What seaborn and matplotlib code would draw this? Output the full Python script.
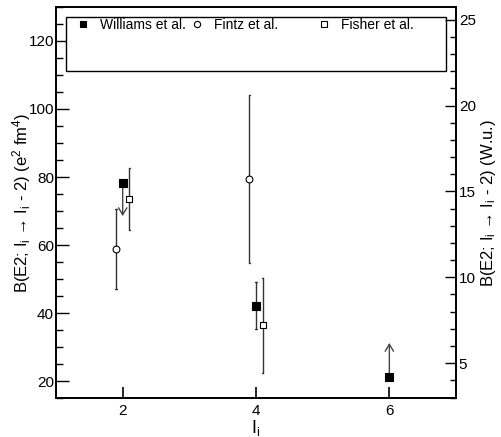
import numpy as np
import pandas as pd
import matplotlib
matplotlib.use("Agg")
import matplotlib.pyplot as plt
import seaborn as sns
from matplotlib.patches import Rectangle
from matplotlib.legend import Legend
from matplotlib.ticker import MultipleLocator

# data
williams_I = [2.0, 4.0, 6.0]
williams_B = [78.3, 42.1, 21.3]
williams_lo = [np.nan, 35.2, np.nan]
williams_hi = [np.nan, 49.2, np.nan]
williams_arrow_to = [68.5, np.nan, 31.2]   # limits drawn as arrows

fintz_I = [1.9, 3.9]
fintz_B = [58.8, 79.4]
fintz_lo = [47.0, 54.7]
fintz_hi = [70.6, 104.1]

fisher_I = [2.1, 4.1]
fisher_B = [73.4, 36.5]
fisher_lo = [64.4, 22.3]
fisher_hi = [82.7, 50.3]

wu_factor = 5.05  # e2fm4 per W.u.

sns.set_theme(style="ticks")
plt.rcParams['font.family'] = ['Liberation Sans', 'DejaVu Sans']
plt.rcParams['mathtext.fontset'] = 'custom'
plt.rcParams['mathtext.rm'] = 'Liberation Sans'
plt.rcParams['mathtext.it'] = 'Liberation Sans:italic'
for k in ['text.color', 'axes.labelcolor', 'xtick.color', 'ytick.color', 'axes.edgecolor']:
    plt.rcParams[k] = 'black'

fig = plt.figure(figsize=(5.02, 4.37), dpi=100)
ax = fig.add_axes([0.1116, 0.0892, 0.7968, 0.8948])

# error bars
for I, lo, hi in zip(williams_I + fintz_I + fisher_I,
                     williams_lo + fintz_lo + fisher_lo,
                     williams_hi + fintz_hi + fisher_hi):
    if np.isnan(lo):
        continue
    ax.plot([I, I], [lo, hi], color='#333333', lw=1.0, zorder=1)
    ax.plot([I - 0.012, I + 0.012], [lo, lo], color='#333333', lw=1.0, zorder=1)
    ax.plot([I - 0.012, I + 0.012], [hi, hi], color='#333333', lw=1.0, zorder=1)

for I, B, tip in zip(williams_I, williams_B, williams_arrow_to):
    if np.isnan(tip):
        continue
    ax.annotate("", xy=(I, tip), xytext=(I, B),
                arrowprops=dict(arrowstyle="->,head_width=0.3,head_length=0.5", color='#444444',
                                lw=1.0, mutation_scale=10, shrinkA=0, shrinkB=0),
                zorder=1)

df_w = pd.DataFrame({"I": williams_I, "B": williams_B})
df_f = pd.DataFrame({"I": fintz_I, "B": fintz_B})
df_s = pd.DataFrame({"I": fisher_I, "B": fisher_B})

sns.scatterplot(data=df_w, x="I", y="B", marker="s", s=30, color="black",
                edgecolor="black", linewidth=0.8, ax=ax, zorder=3, legend=False)
sns.scatterplot(data=df_f, x="I", y="B", marker="o", s=24, color="white",
                edgecolor="black", linewidth=0.8, ax=ax, zorder=3, legend=False)
sns.scatterplot(data=df_s, x="I", y="B", marker="s", s=23, color="white",
                edgecolor="black", linewidth=0.8, ax=ax, zorder=3, legend=False)

ax.set_xlim(1, 7)
ax.set_ylim(15, 130)
ax.set_xticks([2, 4, 6])
ax.yaxis.set_major_locator(MultipleLocator(20))
ax.yaxis.set_minor_locator(MultipleLocator(5))
ax.tick_params(axis='x', direction='in', length=8, width=1.2, labelsize=11, top=False, pad=4)
ax.tick_params(axis='y', which='major', direction='in', length=9, width=1, labelsize=11, pad=1.5)
ax.tick_params(axis='y', which='minor', direction='in', length=5, width=1)
for sp in ax.spines.values():
    sp.set_linewidth(1.2)
    sp.set_visible(True)

ax.set_xlabel(r"I$_\mathregular{i}$", fontsize=13, labelpad=0)
ax.set_ylabel(r"B(E2; I$_\mathregular{i}$ → I$_\mathregular{i}$ - 2) (e$^\mathregular{2}$ fm$^\mathregular{4}$)",
              fontsize=12, labelpad=-3)

ax2 = ax.twinx()
ax2.set_ylim(15 / wu_factor, 130 / wu_factor)
ax2.yaxis.set_major_locator(MultipleLocator(5))
ax2.yaxis.set_minor_locator(MultipleLocator(1))
ax2.tick_params(axis='y', which='major', direction='in', length=8, width=1, labelsize=11, pad=2)
ax2.tick_params(axis='y', which='minor', direction='in', length=4.5, width=1)
ax2.set_ylabel(r"B(E2; I$_\mathregular{i}$ → I$_\mathregular{i}$ - 2) (W.u.)", fontsize=12, labelpad=2)

# legend box
ax.add_patch(Rectangle((0.025, 0.836), 0.95, 0.138, transform=ax.transAxes,
                       facecolor='white', edgecolor='black', lw=1.0, zorder=4))
entries = [
    ("Williams et al.", dict(marker="s", color="black", markerfacecolor="black", ms=5), 0.05),
    ("Fintz et al.", dict(marker="o", color="black", markerfacecolor="white", ms=4.5), 0.335),
    ("Fisher et al.", dict(marker="s", color="black", markerfacecolor="white", ms=4.5), 0.6525),
]
for label, style, xpos in entries:
    h = plt.Line2D([], [], ls="none", mew=0.8, **style)
    leg = Legend(ax, [h], [label], loc='upper left', bbox_to_anchor=(xpos, 0.972),
                 frameon=False, fontsize=10, handletextpad=0.7, handlelength=1.0,
                 borderaxespad=0, borderpad=0)
    leg.set_zorder(5)
    ax.add_artist(leg)

fig.savefig("out.png", dpi=100)
